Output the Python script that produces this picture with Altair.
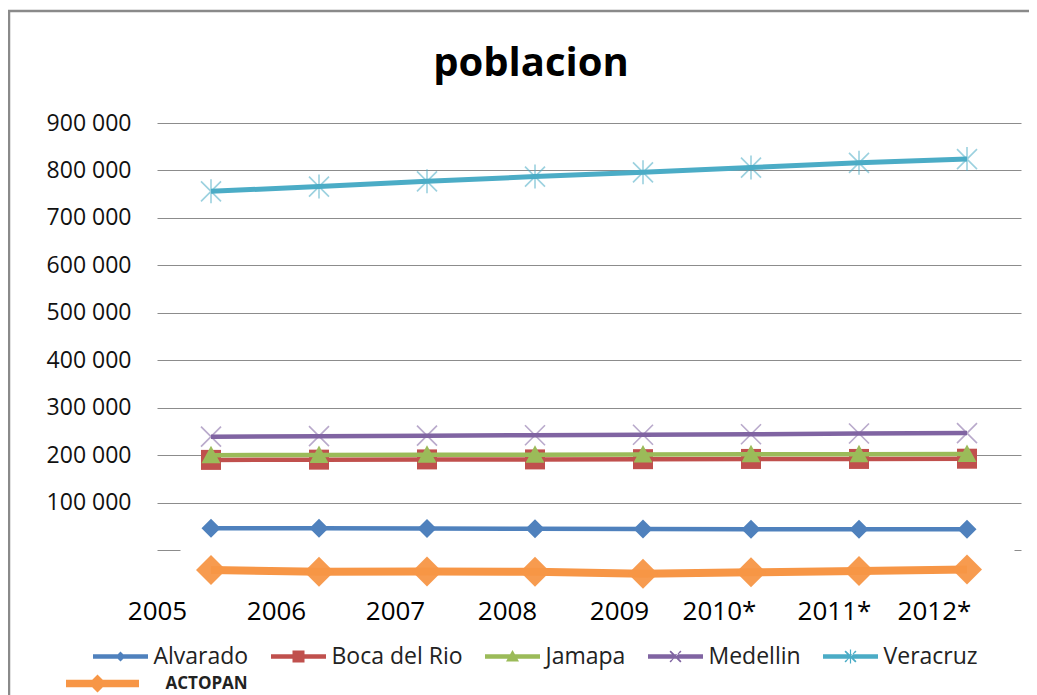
import altair as alt
import pandas as pd

years = ["2005", "2006", "2007", "2008", "2009", "2010*", "2011*", "2012*"]
alvarado = [46000, 46000, 45500, 45000, 44500, 44000, 44000, 44000]
boca_del_rio = [190000, 190500, 191000, 191000, 191500, 192000, 192000, 192500]
jamapa = [200000, 200500, 201000, 201000, 201500, 202000, 202000, 202500]
medellin = [239000, 240000, 241000, 242000, 243000, 244000, 245500, 246500]
veracruz = [756000, 766000, 777000, 787000, 796000, 806000, 816000, 824000]
actopan = [-42000, -46000, -45000, -46000, -50000, -47000, -44000, -41000]

series_names = ["Alvarado", "Boca del Rio", "Jamapa", "Medellin", "Veracruz", "ACTOPAN"]
series_values = [alvarado, boca_del_rio, jamapa, medellin, veracruz, actopan]
colors = ["#4F81BD", "#C0504D", "#9BBB59", "#8064A2", "#4BACC6", "#F79646"]

rows = []
for name, vals in zip(series_names, series_values):
    for y, v in zip(years, vals):
        rows.append({"anio": y, "serie": name, "poblacion": v})
df = pd.DataFrame(rows)

FONT = "Open Sans"

# per-label horizontal nudge of the x labels (they sit left of the points in the original)
label_nudge = {"2005": -54, "2006": -43, "2007": -32, "2008": -28,
               "2009": -24, "2010*": -32, "2011*": -25, "2012*": -33}
nudge_expr = " : ".join(f"datum.label === '{k}' ? {v}" for k, v in label_nudge.items()) + " : 0"

# legend symbols: a line segment with the marker on it (all filled outlines)
STUB = "M-5.5,-0.45H5.5V0.45H-5.5Z"
XBARS = ("M-1.2,-0.95L-0.95,-1.2L1.2,0.95L0.95,1.2Z"
         "M-1.2,0.95L1.2,-0.95L0.95,-1.2L-0.95,1.2Z")
legend_paths = [
    STUB + "M0,-1L1,0L0,1L-1,0Z",
    STUB + "M-1.2,-1.2H1.2V1.2H-1.2Z",
    STUB + "M0,-1.3L1.3,1H-1.3Z",
    STUB + XBARS,
    STUB + XBARS + "M-0.12,-1.4H0.12V1.4H-0.12Z",
    "M-10.9,-0.75H3.7V0.75H-10.9ZM-4.6,-1.8L-2.8,0L-4.6,1.8L-6.4,0Z",
]

IS_ACT = "datum.label === 'ACTOPAN'"
legend = alt.Legend(
    title=None, orient="none", legendX=-48, legendY=522,
    direction="horizontal", columns=5, gridAlign="none",
    columnPadding=22, rowPadding=3, symbolSize=100,
    labelOffset={"expr": f"{IS_ACT} ? 33.5 : 21.5"},
    labelFont=FONT,
    labelFontSize={"expr": f"{IS_ACT} ? 17 : 23"},
    labelFontWeight={"expr": f"{IS_ACT} ? 'bold' : 'normal'"},
    labelColor="#222222",
)

color_leg = alt.Color("serie:N", scale=alt.Scale(domain=series_names, range=colors), legend=legend)
shape_leg = alt.Shape("serie:N", scale=alt.Scale(domain=series_names, range=legend_paths), legend=legend)

x = alt.X(
    "anio:N", sort=years, title=None,
    scale=alt.Scale(type="point", padding=0.5),
    axis=alt.Axis(
        domain=False, ticks=False, grid=False, labelAngle=0,
        labelFont=FONT, labelFontSize=26, labelColor="black", labelPadding=10,
        labelOffset={"expr": nudge_expr},
    ),
)
y = alt.Y(
    "poblacion:Q", title=None,
    scale=alt.Scale(domain=[-80000, 900000], nice=False, zero=False),
    axis=alt.Axis(
        values=[0, 100000, 200000, 300000, 400000, 500000, 600000, 700000, 800000, 900000],
        labelExpr="datum.value === 0 ? '' : replace(format(datum.value, ','), ',', ' ')",
        domain=False, ticks=False, grid=True, gridColor="#8c8c8c", gridWidth=1,
        gridDash={"condition": {"test": "datum.value === 0", "value": [23, 834, 7]}, "value": []},
        labelFont=FONT, labelFontSize=23, labelColor="#111111", labelPadding=26,
    ),
)

# marker style of each series in the plot
marker_style = {
    "Alvarado": dict(shape="diamond", size=361, filled=True, opacity=1),
    "Boca del Rio": dict(shape="square", size=400, filled=True, opacity=1),
    "Jamapa": dict(shape="M0,-1L1,0.85H-1Z", size=361, filled=True, opacity=1),
    "Medellin": dict(shape="M-1,-1L1,1M-1,1L1,-1", size=400, filled=False, strokeWidth=1.6, opacity=0.55),
    "Veracruz": dict(shape="M-1,-1L1,1M-1,1L1,-1M0,-1.2V1.2", size=400, filled=False, strokeWidth=1.6, opacity=0.55),
    "ACTOPAN": dict(shape="diamond", size=900, filled=True, opacity=0.95),
}
line_width = {"Alvarado": 4.5, "Boca del Rio": 4.5, "Jamapa": 4.5,
              "Medellin": 4.5, "Veracruz": 5, "ACTOPAN": 8}

base = alt.Chart(df)
frame = alt.Chart(pd.DataFrame({"f": [0]})).mark_rect(
    fill="transparent", stroke="#8a8a8a", strokeWidth=2.5
).encode(x=alt.value(-148), x2=alt.value(1100), y=alt.value(-112), y2=alt.value(800))

layers = [frame]
for name, col in zip(series_names, colors):
    sub = base.transform_filter(alt.datum.serie == name)
    layers.append(sub.mark_line(strokeWidth=line_width[name], color=col).encode(x=x, y=y))
    layers.append(sub.mark_point(color=col, **marker_style[name]).encode(x=x, y=y))

# legend only (no data drawn): colour + line/marker symbol of each series
legend_layer = base.transform_filter("false").mark_point(filled=True, size=100, opacity=1).encode(
    x=x, y=y, color=color_leg, shape=shape_leg
)
layers.append(legend_layer)

chart = alt.layer(*layers).properties(
    width=864, height=465,
    padding={"left": 149, "top": 115, "right": 8, "bottom": 107},
    autosize=alt.AutoSizeParams(type="none"),
    title=alt.TitleParams("poblacion", font=FONT, fontSize=40, fontWeight="bold",
                          color="black", anchor="middle", dx=-58, offset=-106,
                          baseline="alphabetic"),
).configure_view(stroke=None)

chart.save("out.html", embed_options={"renderer": "svg", "actions": False})
